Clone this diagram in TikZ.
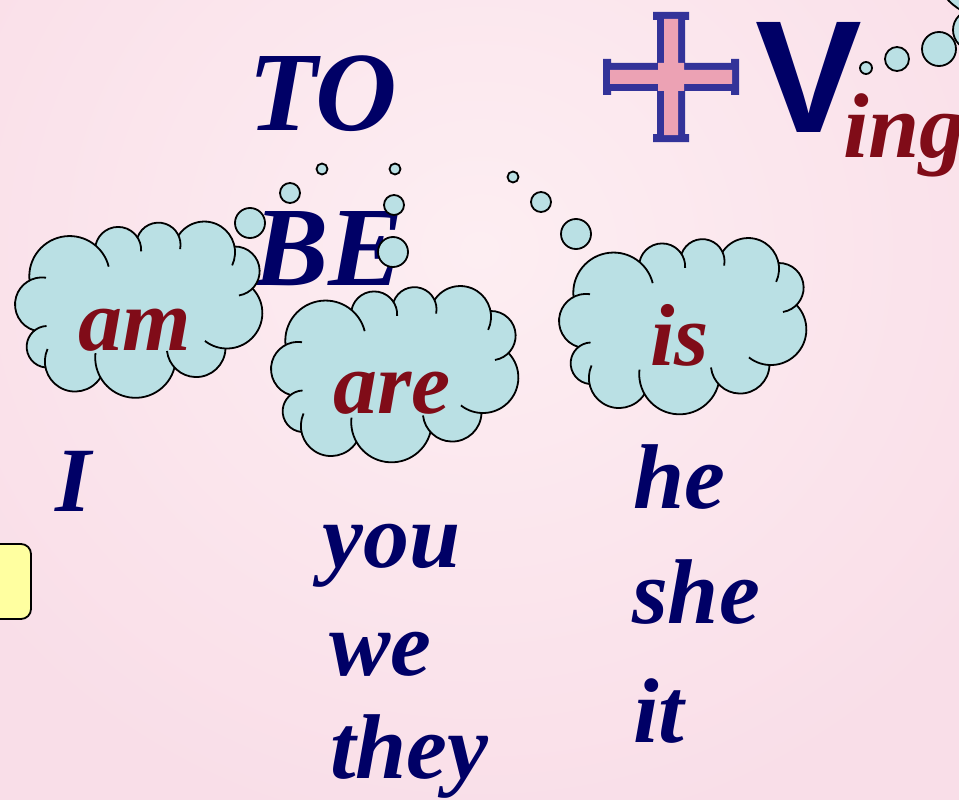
\documentclass[tikz,border=0pt]{standalone}
\usepackage{fontspec}
\usepackage{tikz}
\usetikzlibrary{positioning}
\newfontfamily\wordfont{Liberation Serif}
\newfontfamily\letterfont{Liberation Sans}
\definecolor{navy}{RGB}{0,0,102}
\definecolor{wine}{RGB}{128,12,24}
\definecolor{cloudfill}{RGB}{186,224,228}
\definecolor{crossblue}{RGB}{51,51,153}
\definecolor{crosspink}{RGB}{236,162,180}
\definecolor{notefill}{RGB}{255,255,160}
\definecolor{bginner}{RGB}{253,238,242}
\definecolor{bgouter}{RGB}{249,222,232}

% junctions of the puffs, relative to the cloud centre
\def\cloudpts{-105/-31/-39/-66, -39/-66/3/-74, 3/-74/44/-76, 44/-76/100/-65,
  100/-65/118/-23, 118/-23/91/37, 91/37/40/56, 40/56/-34/66, -34/66/-89/56,
  -89/56/-100/19, -100/19/-105/-31}
\newcommand\puffcalc[4]{%
  \pgfmathsetmacro\pdx{#3-#1}%
  \pgfmathsetmacro\pdy{#4-#2}%
  \pgfmathsetmacro\pc{sqrt(\pdx*\pdx+\pdy*\pdy)}%
  \pgfmathsetmacro\pr{\pc/(2*sin(68))}%
  \pgfmathsetmacro\pox{(#1+#3)/2-\pdy/\pc*\pr*cos(68)}%
  \pgfmathsetmacro\poy{(#2+#4)/2+\pdx/\pc*\pr*cos(68)}%
  \pgfmathsetmacro\ps{atan2(#2-\poy,#1-\pox)}}
\newcommand\thoughtcloud[2]{%
  \begin{scope}[shift={(#1,#2)}]
    \filldraw[cloudfill, line width=0.8pt] (-105,-31) -- (-39,-66) -- (3,-74) -- (44,-76)
      -- (100,-65) -- (118,-23) -- (91,37) -- (40,56) -- (-34,66) -- (-89,56) -- (-100,19) -- cycle;
    \foreach \ax/\ay/\bx/\by in \cloudpts {
      \puffcalc{\ax}{\ay}{\bx}{\by}
      \filldraw[cloudfill, line width=0.8pt] (\ax,\ay) arc[start angle=\ps, delta angle=136, radius=\pr] -- cycle;
    }
    \foreach \ax/\ay/\bx/\by in \cloudpts {
      \puffcalc{\ax}{\ay}{\bx}{\by}
      \draw[line width=1.8pt] (\ax,\ay) arc[start angle=\ps, delta angle=172, radius=\pr];
    }
  \end{scope}}

\begin{document}
\begin{tikzpicture}[
    x=1pt, y=-1pt,
    bubble/.style={circle, draw=black, fill=cloudfill, line width=1.8pt, inner sep=0pt},
    pronoun/.style={anchor=base west, inner sep=0pt, text=navy, font=\wordfont\bfseries\itshape\fontsize{92}{92}\selectfont},
    verbform/.style={anchor=base west, inner sep=0pt, text=wine, font=\wordfont\bfseries\itshape\fontsize{88}{88}\selectfont},
    title/.style={anchor=base west, inner sep=0pt, text=navy, font=\wordfont\bfseries\itshape\fontsize{113}{113}\selectfont}
]
\useasboundingbox (0,0) rectangle (959,800);
\shade[inner color=bginner, outer color=bgouter] (-150,-350) rectangle (1109,850);
\clip (0,0) rectangle (959,800);

\node[title] (to) at (248,130) {TO};
\node[title] (be) at (253,285) {BE};

% clouds and their bubbles
\thoughtcloud{134.5}{311.5}
\thoughtcloud{390.5}{376}
\thoughtcloud{678.5}{328}

\node[bubble, minimum size=30] (amb1) at (250,223) {};
\node[bubble, minimum size=20] (amb2) at (290,193) {};
\node[bubble, minimum size=11] (amb3) at (322,169) {};
\node[bubble, minimum size=30] (areb1) at (393,252) {};
\node[bubble, minimum size=20] (areb2) at (394,205) {};
\node[bubble, minimum size=11] (areb3) at (395,169) {};
\node[bubble, minimum size=30] (isb1) at (576,234) {};
\node[bubble, minimum size=20] (isb2) at (541,202) {};
\node[bubble, minimum size=11] (isb3) at (513,177) {};
\node[bubble, minimum size=12] (vb1) at (866,68) {};
\node[bubble, minimum size=24] (vb2) at (897,59) {};
\node[bubble, minimum size=34] (vb3) at (939,49) {};
\node[bubble, minimum size=40] (vb4) at (973,30) {};
\node[bubble, minimum size=116] (vcloud) at (990,-40) {};

\node[verbform] (am) at (78,350) {am};
\node[verbform] (are) at (333,413) {are};
\node[verbform] (is) at (650,365) {is};

\node[pronoun] (pI) at (55,511) {I};
\node[pronoun] (you) at (322,567) {you};
\node[pronoun] (we) at (329,675) {we};
\node[pronoun] (they) at (330,778) {they};
\node[pronoun] (he) at (633,508) {he};
\node[pronoun] (she) at (632,623) {she};
\node[pronoun] (it) at (633,742) {it};

% plus sign
\fill[crossblue] (657,12) rectangle (685,142) (603,63) rectangle (739,91)
  (653,12) rectangle (689,20) (653,134) rectangle (689,142)
  (603,59) rectangle (611,95) (731,59) rectangle (739,95);
\fill[crosspink] (664,19) rectangle (678,135) (610,70) rectangle (732,84)
  (658,63) rectangle (684,91);

\node[anchor=base west, inner sep=0pt, text=navy, font=\letterfont\bfseries\fontsize{160}{160}\selectfont] (v) at (755,132) {V};
\node[anchor=base west, inner sep=0pt, text=wine, font=\wordfont\bfseries\itshape\fontsize{92}{92}\selectfont] (ing) at (843,157) {ing};

\draw[fill=notefill, line width=1.8pt, rounded corners=10pt] (-30,544) rectangle (31,619);
\end{tikzpicture}
\end{document}
